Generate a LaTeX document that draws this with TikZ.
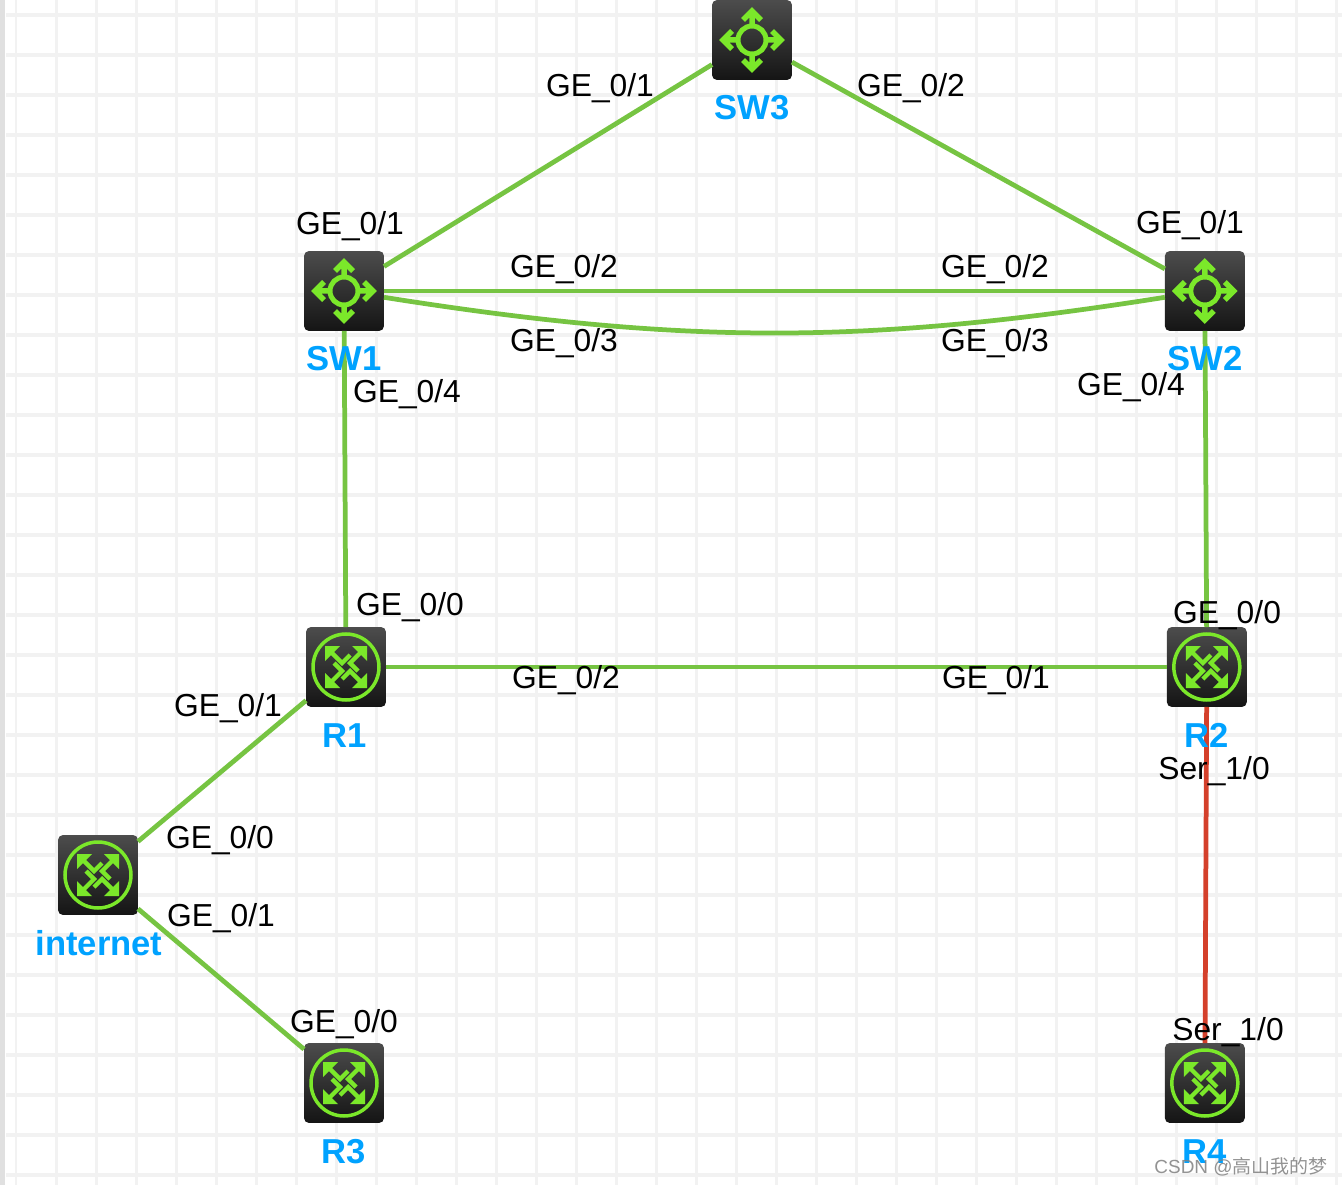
\documentclass[tikz,border=0pt]{standalone}
\usepackage{xcolor}
\usepackage{fontspec}
\setmainfont{Liberation Sans}
\newfontfamily\cjk{Noto Sans CJK SC}
\usepackage{tikz}
\usetikzlibrary{positioning}

\definecolor{linkgreen}{HTML}{76C442}
\definecolor{linkred}{HTML}{D4402B}
\definecolor{icongreen}{HTML}{7BE82A}
\definecolor{nameblue}{HTML}{00A2FF}
\definecolor{gridgray}{HTML}{F2F2F2}

\tikzset{
    device/.style={rectangle, rounded corners=0.1cm, minimum size=1.6cm, inner sep=0, outer sep=0, top color=black!70, bottom color=black!92},
    link/.style={linkgreen, line width=0.095cm},
    serial/.style={linkred, line width=0.095cm},
    port/.style={anchor=base, inner sep=0, font=\fontsize{18.1}{20}\selectfont},
    devname/.style={anchor=base, inner sep=0, text=nameblue, font=\fontsize{19.7}{22}\selectfont\bfseries},
    pics/swicon/.style={code={
        \draw[icongreen, line width=0.1cm] (0,0) circle (14);
        \foreach \a in {0,90,180,270} {
            \draw[icongreen, rotate=\a, line width=0.11cm] (0,-14) -- (0,-28) (-9,-20) -- (0,-29) -- (9,-20);
        }
    }},
    pics/rticon/.style={code={
        \draw[icongreen, line width=0.07cm] (0,0) circle (33);
        \foreach \a in {0,90,180,270} {
            \fill[icongreen, rotate=\a] (6,-21) -- (21,-21) -- (21,-6) -- cycle;
            \draw[icongreen, rotate=\a, line width=0.085cm] (14,-14) -- (4,-4) -- (12,4);
        }
    }},
}

\begin{document}
\begin{tikzpicture}[x=0.02cm, y=-0.02cm]

    \useasboundingbox (0,0) rectangle (1342,1185);

    % sheet
    \fill[black!12] (0,0) rectangle (5,1185);
    \foreach \x in {16,56,...,1336} {
        \draw[gridgray, line width=0.06cm] (\x,0) -- (\x,1185);
    }
    \foreach \y in {15,55,...,1175} {
        \draw[gridgray, line width=0.09cm] (6,\y) -- (1342,\y);
    }

    % devices
    \node[device] (SW1) at (344,291) {};
    \node[device] (SW2) [right=15.62cm of SW1] {};
    \node[device] (SW3) at (752,40) {};
    \node[device] (R1) at (346,667) {};
    \node[device] (R2) [right=15.62cm of R1] {};
    \node[device] (R3) at (344,1083) {};
    \node[device] (R4) [right=15.62cm of R3] {};
    \node[device] (internet) at (98,875) {};

    \foreach \n in {SW1,SW2,SW3} {
        \pic at (\n) {swicon};
    }
    \foreach \n in {R1,R2,R3,R4,internet} {
        \pic at (\n) {rticon};
    }

    % links
    \path[link]
    (SW1) edge (SW3)
    (SW3) edge (SW2)
    (SW1) edge (SW2)
    (SW1) edge [bend right=9] (SW2)
    (SW1) edge (R1)
    (SW2) edge (R2)
    (R1) edge (R2)
    (R1) edge (internet)
    (internet) edge (R3);
    \draw[serial] (R2) -- (R4);

    % device names
    \node[devname] (nameSW1) at (344,371) {SW1};
    \node[devname] (nameSW2) at (1205,371) {SW2};
    \node[devname] (nameSW3) at (752,120) {SW3};
    \node[devname] (nameR1) at (345,747) {R1};
    \node[devname] (nameR2) at (1207,747) {R2};
    \node[devname] (nameR3) at (344,1163) {R3};
    \node[devname] (nameR4) at (1205,1163) {R4};
    \node[devname] (nameinternet) at (99,955) {internet};

    % port labels
    \node[port] (p1) at (600,97) {GE\_0/1};
    \node[port] (p2) at (911,97) {GE\_0/2};
    \node[port] (p3) at (350,235) {GE\_0/1};
    \node[port] (p4) at (1190,234) {GE\_0/1};
    \node[port] (p5) at (564,278) {GE\_0/2};
    \node[port] (p6) at (995,278) {GE\_0/2};
    \node[port] (p7) at (564,352) {GE\_0/3};
    \node[port] (p8) at (995,352) {GE\_0/3};
    \node[port] (p9) at (407,403) {GE\_0/4};
    \node[port] (p10) at (1131,396) {GE\_0/4};
    \node[port] (p11) at (410,615) {GE\_0/0};
    \node[port] (p12) at (1227,623) {GE\_0/0};
    \node[port] (p13) at (566,688) {GE\_0/2};
    \node[port] (p14) at (996,688) {GE\_0/1};
    \node[port] (p15) at (228,716) {GE\_0/1};
    \node[port] (p16) at (1214,779) {Ser\_1/0};
    \node[port] (p17) at (220,848) {GE\_0/0};
    \node[port] (p18) at (221,926) {GE\_0/1};
    \node[port] (p19) at (344,1032) {GE\_0/0};
    \node[port] (p20) at (1228,1040) {Ser\_1/0};

    % watermark
    \node[anchor=base, inner sep=0, text=black!50, opacity=0.85, font=\fontsize{10.8}{14}\selectfont] (mark) at (1241,1173) {CSDN @{\cjk 高山我的梦}};

\end{tikzpicture}
\end{document}
